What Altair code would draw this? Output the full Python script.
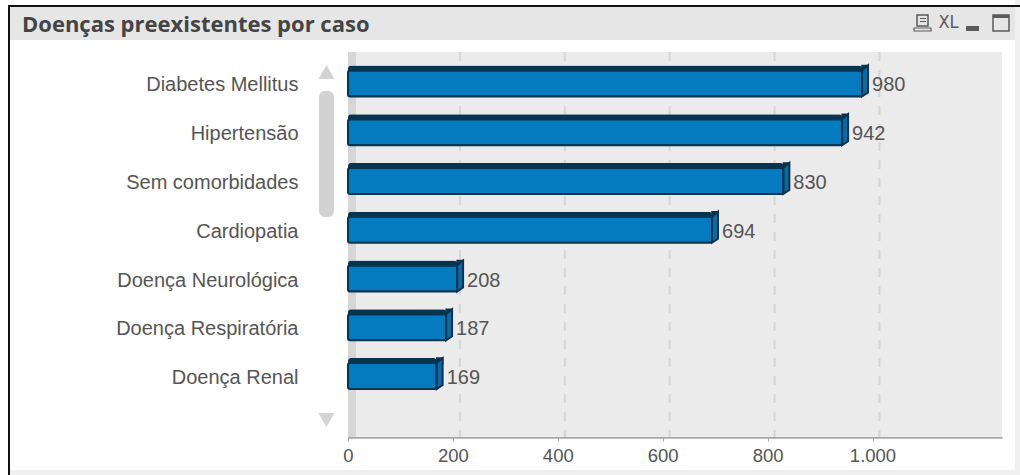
import altair as alt
import pandas as pd

categories = ["Diabetes Mellitus", "Hipertensão", "Sem comorbidades", "Cardiopatia",
              "Doença Neurológica", "Doença Respiratória", "Doença Renal"]
cases = [980, 942, 830, 694, 208, 187, 169]
x_ticks = [0, 200, 400, 600, 800, 1000]

TEXT = "#555555"
DARK = "#08344f"
FRONT = "#047abf"
SIDE = "#0a6aa6"
CHROME = "#d2d2d2"
ICON = "#5a5a5a"

PLOT_W, PLOT_H = 654, 385
LEFT, TOP = 348, 52

df = pd.DataFrame({"cat": categories, "n": cases})
ticks = pd.DataFrame({"t": x_ticks})
one = pd.DataFrame({"a": [0]})


def box(x0, y0, x1, y1, fill=None, stroke=None, sw=1, radius=0):
    """Rectangle in page pixels, used for the window furniture around the plot."""
    kw = {}
    if fill:
        kw["fill"] = fill
    else:
        kw["fillOpacity"] = 0
    if stroke:
        kw["stroke"] = stroke
        kw["strokeWidth"] = sw
    if radius:
        kw["cornerRadius"] = radius
    return alt.Chart(one).mark_rect(**kw).encode(
        x=alt.value(x0 - LEFT), x2=alt.value(x1 - LEFT),
        y=alt.value(y0 - TOP), y2=alt.value(y1 - TOP),
    )


def caption(text, x, y, **kw):
    return alt.Chart(pd.DataFrame({"s": [text]})).mark_text(**kw).encode(
        x=alt.value(x - LEFT), y=alt.value(y - TOP), text="s:N"
    )


furniture = [
    box(10, 7, 1015, 40, fill="#e6e6e6"),
    box(1015, 0, 1020, 475, fill="#f0f0f0"),
    box(10, 470, 1015, 475, fill="#f0f0f0"),
    box(8, 6, 10, 475, fill="#111111"),
    box(8, 5, 1020, 7, fill="#111111"),
    box(348, 52, 1002, 437, fill="#ebebeb"),
    box(348, 52, 356, 437, fill="#d6d6d6"),
    box(319, 91, 334, 217, fill=CHROME, radius=6),
    caption("Doenças preexistentes por caso", 22, 25, align="left", baseline="middle",
            font="Open Sans", fontWeight="bold", fontSize=22, color="#444444"),
    box(917, 15, 928, 26, stroke=ICON, sw=1.5),
    box(920, 18, 926, 19, fill=ICON),
    box(920, 21, 926, 22, fill=ICON),
    box(914, 28, 931, 31, stroke=ICON, sw=1.2),
    caption("XL", 948.5, 23, align="center", baseline="middle",
            font="'DejaVu Sans Condensed', 'Liberation Sans'", fontSize=18, color=ICON),
    box(966, 26, 979, 31, fill=ICON),
    box(993, 15, 1009, 31, stroke=ICON, sw=1.5),
    box(993, 15, 1009, 18, fill=ICON),
]

triangles = [
    alt.Chart(one).mark_point(shape=shape, filled=True, size=260, color=CHROME, opacity=1).encode(
        x=alt.value(326.5 - LEFT), y=alt.value(y - TOP)
    )
    for shape, y in [("triangle-up", 72), ("triangle-down", 420)]
]

x_scale = alt.Scale(domain=[0, PLOT_W / 0.5245], range=[0, PLOT_W], nice=False)
y_scale = alt.Scale(domain=categories, range=[18.3, 337.2], paddingInner=0.46, paddingOuter=0)

x_axis = alt.Axis(
    values=x_ticks, title=None, grid=False, domainColor="#a8a8a8", domainWidth=2.5,
    tickColor="#a8a8a8", tickSize=4, labelFont="Liberation Sans", labelFontSize=18.5,
    labelColor=TEXT, labelPadding=5, labelFlush=False,
    labelExpr="replace(format(datum.value, ','), ',', '.')",
)
y_axis = alt.Axis(
    title=None, domain=False, ticks=False, labelFont="Liberation Sans", labelFontSize=20,
    labelColor=TEXT, labelPadding=50, labelLimit=300, labelOffset=2,
)

# dashed gridlines sit on the back wall of the 3D plot, so they are shifted right of the ticks
grid = alt.Chart(ticks).mark_rule(
    color="#d6d6d6", strokeWidth=2, strokeDash=[9, 9], xOffset=7
).encode(x=alt.X("t:Q", scale=x_scale, axis=x_axis), y=alt.value(0), y2=alt.value(PLOT_H))

enc = dict(
    x=alt.X("n:Q", scale=x_scale, axis=x_axis),
    y=alt.Y("cat:N", scale=y_scale, sort=categories, axis=y_axis),
)

top_face = alt.Chart(df).mark_bar(size=26, color=DARK, yOffset=-5, cornerRadius=3).encode(**enc)
# the end cap is a symbol in pixel units (size 4 gives a scale of 1), anchored at the bar's value
cap_top = alt.Chart(df).mark_point(
    shape="M0,-13 L0,-18 L6,-18 L6,-13 Z", size=4, filled=True, fill=DARK, stroke=DARK,
    strokeWidth=1.5, opacity=1,
).encode(**enc)
cap_side = alt.Chart(df).mark_point(
    shape="M0,-13 L6,-18 L6,9 L0,13 Z", size=4, filled=True, fill=SIDE, stroke=DARK,
    strokeWidth=2, opacity=1,
).encode(**enc)
front = alt.Chart(df).mark_bar(
    size=26, color=FRONT, stroke=DARK, strokeWidth=2, cornerRadius=2
).encode(**enc)
labels = alt.Chart(df).mark_text(
    align="left", baseline="middle", dx=10, dy=2, font="Liberation Sans", fontSize=20, color=TEXT
).encode(**enc, text="n:Q")

chart = alt.layer(
    *furniture, *triangles, grid, top_face, cap_top, cap_side, front, labels
).properties(
    width=PLOT_W, height=PLOT_H, background="white",
    padding={"left": LEFT, "top": TOP, "right": 1020 - LEFT - PLOT_W, "bottom": 475 - TOP - PLOT_H},
    autosize=alt.AutoSizeParams(type="none"),
).configure_view(stroke=None)

chart.save("out.html", embed_options={"renderer": "svg", "actions": False})
